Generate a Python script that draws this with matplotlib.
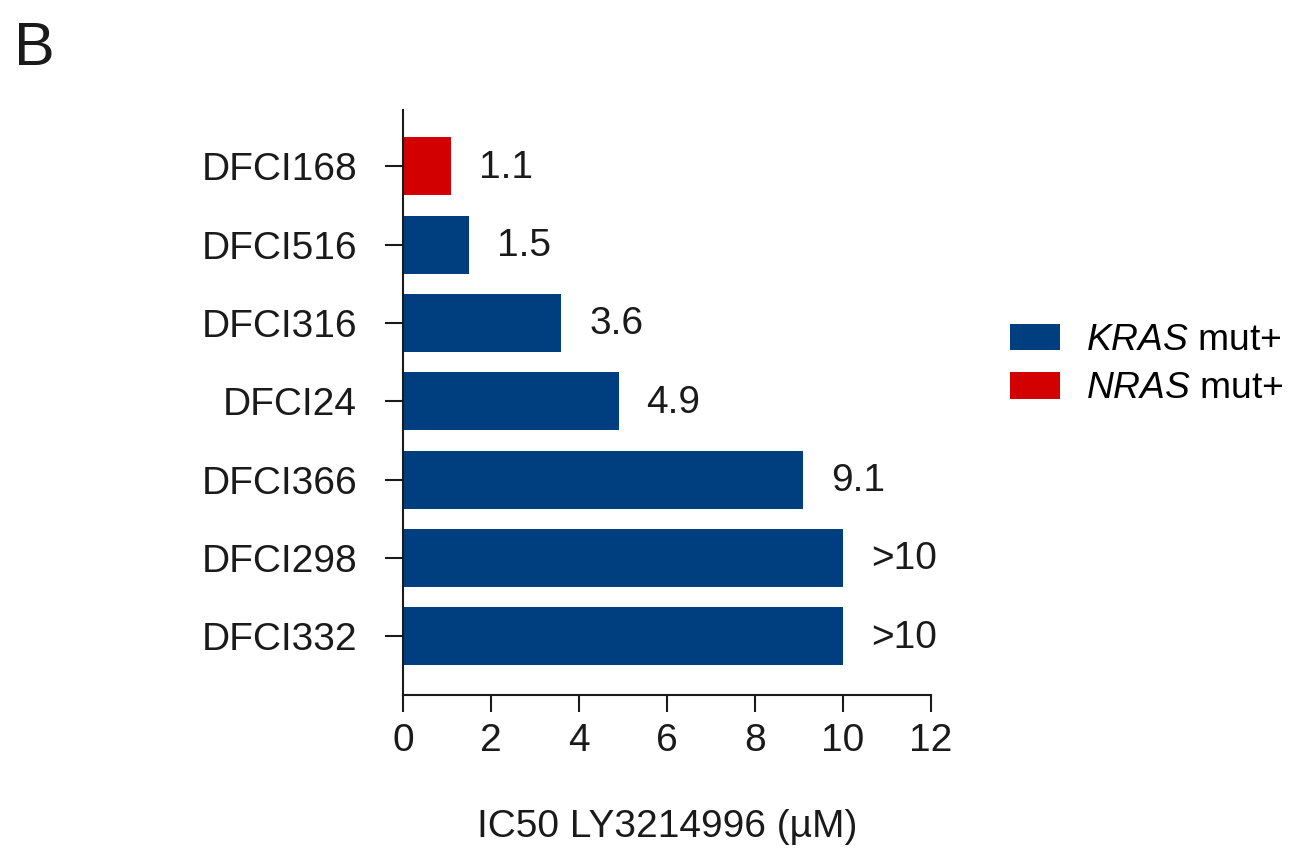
import matplotlib
matplotlib.use("Agg")
import matplotlib.pyplot as plt
from matplotlib.patches import Patch

plt.rcParams['font.family'] = ['Liberation Sans', 'DejaVu Sans']
plt.rcParams['mathtext.fontset'] = 'custom'
plt.rcParams['mathtext.it'] = 'Liberation Sans:italic'
plt.rcParams['mathtext.rm'] = 'Liberation Sans'

# IC50 data per cell line (top to bottom)
cell_lines = ['DFCI168', 'DFCI516', 'DFCI316', 'DFCI24', 'DFCI366', 'DFCI298', 'DFCI332']
ic50 = [1.1, 1.5, 3.6, 4.9, 9.1, 10, 10]
value_labels = ['1.1', '1.5', '3.6', '4.9', '9.1', '>10', '>10']
mutation = ['NRAS', 'KRAS', 'KRAS', 'KRAS', 'KRAS', 'KRAS', 'KRAS']
x_ticks = [0, 2, 4, 6, 8, 10, 12]

colors = {'KRAS': '#003f7f', 'NRAS': '#d20000'}

fig = plt.figure(figsize=(12.94, 8.51), dpi=100)
ax = fig.add_axes([0.3114, 0.1833, 0.4081, 0.6874])

ypos = list(range(len(cell_lines)))
ax.barh(ypos, ic50, height=0.74, color=[colors[m] for m in mutation])

for y, v, lab in zip(ypos, ic50, value_labels):
    ax.annotate(lab, (v, y), xytext=(20, -1), textcoords='offset points',
                va='center', ha='left', fontsize=28, color='#1a1a1a')

ax.set_xlim(0, 12)
ax.set_ylim(6.75, -0.72)
ax.set_xticks(x_ticks)
ax.set_yticks(ypos)
ax.set_yticklabels(cell_lines)
ax.tick_params(axis='y', length=13, width=1.5, pad=20, labelsize=28, colors='#1a1a1a')
ax.tick_params(axis='x', length=12, width=1.5, pad=8, labelsize=28, colors='#1a1a1a')
for s in ['top', 'right']:
    ax.spines[s].set_visible(False)
for s in ['left', 'bottom']:
    ax.spines[s].set_linewidth(1.5)
    ax.spines[s].set_color('#1a1a1a')

ax.set_xlabel('IC50 LY3214996 (µM)', fontsize=28, labelpad=36, color='#1a1a1a')

handles = [Patch(facecolor=colors['KRAS'], label=r'$\it{KRAS}$ mut+'),
           Patch(facecolor=colors['NRAS'], label=r'$\it{NRAS}$ mut+')]
fig.legend(handles=handles, loc='upper left', bbox_to_anchor=(0.769, 0.638),
           frameon=False, fontsize=26.8, handlelength=1.35, handleheight=0.72,
           handletextpad=0.7, labelspacing=0.36, borderaxespad=0)

fig.text(0.011, 0.975, 'B', fontsize=44, va='top', ha='left', color='#1a1a1a')

fig.savefig('out.png', dpi=100)
